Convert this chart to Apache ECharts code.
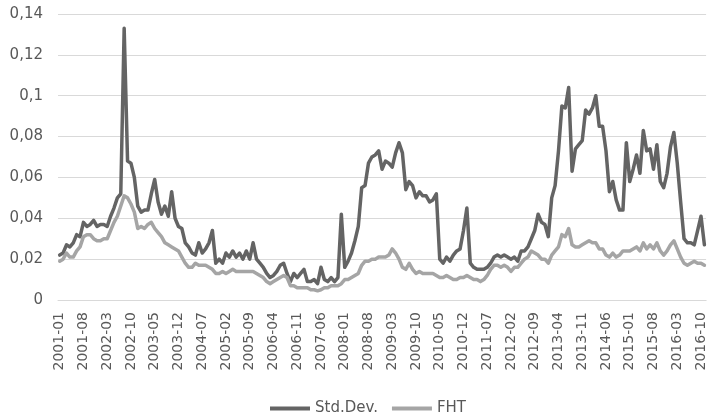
<!DOCTYPE html>
<html>
<head>
<meta charset="utf-8">
<script src="https://cdn.jsdelivr.net/npm/echarts@6/dist/echarts.min.js"></script>
<style>html,body{margin:0;padding:0;background:#fff}#c{width:708px;height:417px}</style>
</head>
<body>
<div id="c"></div>
<script>
// Monthly categories 2001-01 .. 2016-11
var startYear = 2001, monthCount = 191;
var months = [];
for (var k = 0; k < monthCount; k++) {
  var y = startYear + Math.floor(k / 12), m = (k % 12) + 1;
  months.push(y + '-' + (m < 10 ? '0' + m : m));
}
var seriesNames = ['Std.Dev.', 'FHT'];
var yTicks = [0, 0.02, 0.04, 0.06, 0.08, 0.1, 0.12, 0.14];

var stdDev = [
0.022,0.023,0.027,0.026,0.028,0.032,0.031,0.038,0.036,0.037,
0.039,0.036,0.037,0.037,0.036,0.041,0.045,0.050,0.052,0.133,
0.068,0.067,0.060,0.046,0.043,0.044,0.044,0.052,0.059,0.048,
0.042,0.046,0.041,0.053,0.040,0.036,0.035,0.028,0.026,0.023,
0.022,0.028,0.023,0.025,0.028,0.034,0.018,0.020,0.018,0.023,
0.021,0.024,0.021,0.023,0.020,0.024,0.020,0.028,0.020,0.018,
0.016,0.013,0.011,0.012,0.014,0.017,0.018,0.013,0.009,0.013,
0.011,0.013,0.015,0.009,0.009,0.010,0.008,0.016,0.010,0.009,
0.011,0.009,0.011,0.042,0.016,0.019,0.023,0.029,0.036,0.055,
0.056,0.067,0.070,0.071,0.073,0.064,0.068,0.067,0.065,0.072,
0.077,0.072,0.054,0.058,0.056,0.050,0.053,0.051,0.051,0.048,
0.049,0.052,0.020,0.018,0.021,0.019,0.022,0.024,0.025,0.034,
0.045,0.018,0.016,0.015,0.015,0.015,0.016,0.018,0.021,0.022,
0.021,0.022,0.021,0.020,0.021,0.019,0.024,0.024,0.026,0.030,
0.034,0.042,0.038,0.037,0.031,0.050,0.056,0.073,0.095,0.094,
0.104,0.063,0.074,0.076,0.078,0.093,0.091,0.094,0.100,0.085,
0.085,0.073,0.053,0.058,0.049,0.044,0.044,0.077,0.058,0.064,
0.071,0.062,0.083,0.073,0.074,0.064,0.076,0.058,0.055,0.062,
0.075,0.082,0.067,0.048,0.030,0.028,0.028,0.027,0.034,0.041,
0.027
];
var fht = [
0.019,0.020,0.023,0.021,0.021,0.024,0.026,0.031,0.032,0.032,
0.030,0.029,0.029,0.030,0.030,0.034,0.038,0.041,0.046,0.051,
0.050,0.047,0.043,0.035,0.036,0.035,0.037,0.038,0.035,0.033,
0.031,0.028,0.027,0.026,0.025,0.024,0.021,0.018,0.016,0.016,
0.018,0.017,0.017,0.017,0.016,0.015,0.013,0.013,0.014,0.013,
0.014,0.015,0.014,0.014,0.014,0.014,0.014,0.014,0.013,0.012,
0.011,0.009,0.008,0.009,0.010,0.011,0.012,0.011,0.007,0.007,
0.006,0.006,0.006,0.006,0.005,0.005,0.0045,0.005,0.006,0.006,
0.007,0.007,0.007,0.008,0.010,0.010,0.011,0.012,0.013,0.017,
0.019,0.019,0.020,0.020,0.021,0.021,0.021,0.022,0.025,0.023,
0.020,0.016,0.015,0.018,0.015,0.013,0.014,0.013,0.013,0.013,
0.013,0.012,0.011,0.011,0.012,0.011,0.010,0.010,0.011,0.011,
0.012,0.011,0.010,0.010,0.009,0.010,0.012,0.015,0.017,0.017,
0.016,0.017,0.016,0.014,0.016,0.016,0.018,0.020,0.021,0.024,
0.023,0.022,0.020,0.020,0.018,0.022,0.024,0.026,0.032,0.031,
0.035,0.027,0.026,0.026,0.027,0.028,0.029,0.028,0.028,0.025,
0.025,0.022,0.021,0.023,0.021,0.022,0.024,0.024,0.024,0.025,
0.026,0.024,0.028,0.025,0.027,0.025,0.028,0.024,0.022,0.024,
0.027,0.029,0.025,0.021,0.018,0.017,0.018,0.019,0.018,0.018,
0.017
];

var textColor = '#595959';
var font = 'DejaVu Sans';
var chart = echarts.init(document.getElementById('c'), null, {renderer: 'canvas'});
chart.setOption({
  animation: false,
  backgroundColor: '#ffffff',
  grid: {left: 58, right: 0, top: 14, bottom: 117, containLabel: false},
  legend: {
    data: seriesNames,
    left: 265, top: 396,
    icon: 'rect', itemWidth: 40, itemHeight: 4, itemGap: 14,
    textStyle: {color: textColor, fontFamily: font, fontSize: 15}
  },
  xAxis: {
    type: 'category',
    data: months,
    boundaryGap: true,
    axisLine: {show: true, lineStyle: {color: '#d9d9d9', width: 1}},
    axisTick: {show: false},
    axisLabel: {
      interval: 6, rotate: 90, margin: 12,
      color: textColor, fontFamily: font, fontSize: 14
    },
    splitLine: {show: false}
  },
  yAxis: {
    type: 'value',
    min: yTicks[0], max: yTicks[yTicks.length - 1], interval: 0.02,
    axisLine: {show: false},
    axisTick: {show: false},
    axisLabel: {
      margin: 15, color: textColor, fontFamily: font, fontSize: 15,
      formatter: function (v) { return v === 0 ? '0' : String(+v.toFixed(2)).replace('.', ','); }
    },
    splitLine: {show: true, lineStyle: {color: '#d9d9d9', width: 1}}
  },
  series: [
    {name: seriesNames[0], type: 'line', data: stdDev, showSymbol: false, symbol: 'none',
     itemStyle: {color: '#646464'},
     lineStyle: {color: '#646464', width: 3.5, cap: 'round', join: 'round'}},
    {name: seriesNames[1], type: 'line', data: fht, showSymbol: false, symbol: 'none',
     itemStyle: {color: '#a5a5a5'},
     lineStyle: {color: '#a5a5a5', width: 3.5, cap: 'round', join: 'round'}}
  ]
});
</script>
</body>
</html>
